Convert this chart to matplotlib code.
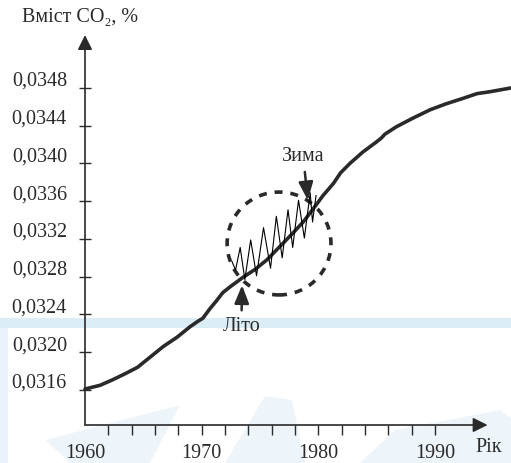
import matplotlib
matplotlib.use("Agg")
import matplotlib.pyplot as plt
from matplotlib.patches import Polygon, Ellipse
from matplotlib.transforms import ScaledTranslation

# CO2 trend
years = [1960.0, 1961.3, 1962.4, 1963.4, 1964.5, 1965.6, 1966.7, 1967.9, 1969.0,
         1969.7, 1970.1, 1970.7, 1971.3, 1971.8, 1972.4, 1973.5, 1974.6, 1975.6,
         1976.7, 1977.8, 1978.7, 1979.5, 1980.4, 1981.3, 1981.9, 1982.7, 1983.8,
         1985.0, 1985.4, 1985.7, 1986.7, 1988.1, 1989.6, 1990.9, 1992.4, 1993.6,
         1994.7, 1995.6, 1996.5]
co2 = [0.03161, 0.03165, 0.03171, 0.03177, 0.03184, 0.03195, 0.03206, 0.03216,
       0.03227, 0.03233, 0.03236, 0.03246, 0.03255, 0.03263, 0.03269, 0.03279,
       0.03288, 0.03298, 0.03312, 0.03326, 0.03338, 0.03351, 0.03366, 0.03379,
       0.03390, 0.03400, 0.03412, 0.03423, 0.03427, 0.03431, 0.03439, 0.03448,
       0.03457, 0.03463, 0.03469, 0.03474, 0.03476, 0.03478, 0.03480]

# seasonal zig-zag (summer / winter)
zig_years = [1972.6, 1972.9, 1973.3, 1973.7, 1974.2, 1974.7, 1975.3, 1975.9,
             1976.4, 1976.9, 1977.4, 1977.8, 1978.3, 1978.8, 1979.3, 1979.5, 1979.8]
zig_co2 = [0.03296, 0.03287, 0.03311, 0.03277, 0.03319, 0.03281, 0.03332, 0.03289,
           0.03344, 0.03300, 0.03351, 0.03311, 0.03361, 0.03321, 0.03369, 0.03338, 0.03366]

y_ticks = [0.0316, 0.0320, 0.0324, 0.0328, 0.0332, 0.0336, 0.0340, 0.0344, 0.0348]
y_labels = ['0,0316', '0,0320', '0,0324', '0,0328', '0,0332', '0,0336', '0,0340', '0,0344', '0,0348']
x_minor = list(range(1962, 1991, 2))
x_labels = [1960, 1970, 1980, 1990]

W, H = 511, 463
fig = plt.figure(figsize=(W / 100, H / 100), dpi=100)
plt.rcParams['font.family'] = ['Liberation Serif', 'DejaVu Serif']
ink = '#2a2a2a'
fs = 14.5

def px(x, y):
    return (x / W, 1 - y / H)

# pale watermark in the background
shapes = [
    ([(0, 318), (511, 318), (511, 328), (0, 328)], 0.9),
    ([(0, 328), (8, 328), (8, 463), (0, 463)], 0.6),
    ([(45, 440), (180, 405), (150, 463), (70, 463)], 0.45),
    ([(225, 463), (265, 396), (292, 400), (305, 463)], 0.45),
    ([(360, 463), (395, 430), (500, 410), (511, 418), (511, 463)], 0.45),
]
for s, a in shapes:
    fig.add_artist(Polygon([px(*p) for p in s], closed=True, transform=fig.transFigure,
                           facecolor='#d8ebf5', edgecolor='none', alpha=a, zorder=0))

ax = fig.add_axes([85 / W, 38 / H, 426 / W, 425 / H])
ax.patch.set_visible(False)
ax.set_xlim(1960, 1996.51)
ax.set_ylim(0.031229, 0.035732)
for sp in ax.spines.values():
    sp.set_visible(False)

# axes with arrow heads
ax.annotate('', xy=(1994.5, 0.031229), xytext=(1960, 0.031229),
            arrowprops=dict(arrowstyle='-|>', lw=1.2, color=ink, mutation_scale=22,
                            shrinkA=0, shrinkB=0), annotation_clip=False)
ax.annotate('', xy=(1960, 0.03536), xytext=(1960, 0.031229),
            arrowprops=dict(arrowstyle='-|>', lw=1.2, color=ink, mutation_scale=22,
                            shrinkA=0, shrinkB=0), annotation_clip=False)

ax.set_yticks(y_ticks)
ax.set_yticklabels(y_labels)
ax.tick_params(axis='y', direction='inout', length=8, width=1, color=ink,
               labelsize=fs, labelcolor=ink, pad=9)
ax.set_xticks(x_minor)
ax.set_xticklabels([])
ax.tick_params(axis='x', direction='out', length=7, width=1, color=ink)
off = ScaledTranslation(0, 9 / 100, fig.dpi_scale_trans)
for lab in ax.get_yticklabels():
    lab.set_transform(lab.get_transform() + off)

down = ax.transData + ScaledTranslation(0, -19 / 100, fig.dpi_scale_trans)
for yr in x_labels:
    ax.text(yr, 0.031229, str(yr), ha='center', va='top', fontsize=fs, color=ink,
            transform=down, clip_on=False)

fig.text(*px(489, 447), 'Рік', ha='center', va='center', fontsize=fs, color=ink)
fig.text(*px(80, 18), 'Вміст CO₂, %', ha='center', va='center', fontsize=fs, color=ink)

ax.plot(years, co2, color=ink, lw=2.6, solid_joinstyle='round', solid_capstyle='round',
        clip_on=False)
ax.plot(zig_years, zig_co2, color='black', lw=0.8)

ax.add_patch(Ellipse((1976.63, 0.033152), 8.9, 0.00109, fill=False, ec=ink,
                     lw=2.6, ls=(0, (2.2, 2.2))))

arrow = dict(arrowstyle='-|>,head_length=0.5,head_width=0.2', lw=1.8,
             color=ink, mutation_scale=22, shrinkB=0)
ax.annotate('Зима', xy=(1979.1, 0.03361), xytext=(1978.7, 0.03407), ha='center', va='center',
            fontsize=fs, color=ink, arrowprops=dict(arrow, shrinkA=2))
ax.annotate('Літо', xy=(1973.46, 0.03271), xytext=(1973.4, 0.03227), ha='center', va='center',
            fontsize=fs, color=ink, arrowprops=dict(arrow, shrinkA=3))

fig.savefig('out.png', dpi=100)
